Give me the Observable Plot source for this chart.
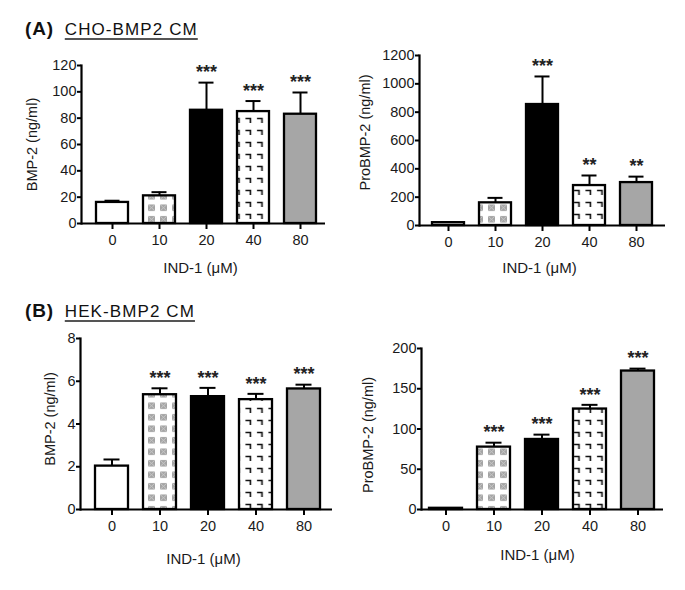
<!DOCTYPE html>
<html><head><meta charset="utf-8">
<script src="https://cdn.jsdelivr.net/npm/d3@7"></script>
<script src="https://cdn.jsdelivr.net/npm/@observablehq/plot@0.6"></script>
<style>
body{margin:0;background:#fff;font-family:"Liberation Sans",Arial,sans-serif;}
#root{position:relative;width:685px;height:590px;overflow:hidden;background:#fff;}
.panel{position:absolute;}
.title{position:absolute;font-size:17px;color:#111;white-space:nowrap;letter-spacing:1.1px;}
.title b{font-size:19px;margin-right:11px;letter-spacing:0.8px;}
.title u{text-decoration-thickness:1.5px;text-underline-offset:3px;text-decoration-color:#555;}
</style></head><body>
<div id="root">
<svg width="0" height="0" style="position:absolute;left:0;top:0">
  <defs>
    <pattern id="pCheck" patternUnits="userSpaceOnUse" width="12" height="11.5" x="2" y="0">
      <rect width="12" height="11.5" fill="#fff"/>
      <rect x="2" y="2" width="7" height="6.5" fill="#a4a4a4"/>
      <path d="M2,2 L9,8.5 M9,2 L2,8.5" stroke="#d0d0d0" stroke-width="0.8"/>
    </pattern>
    <pattern id="pHook" patternUnits="userSpaceOnUse" width="11.5" height="12" x="1" y="1">
      <rect width="11.5" height="12" fill="#fff"/>
      <path d="M3,3.5 H8 V8" fill="none" stroke="#111" stroke-width="1.6"/>
    </pattern>
  </defs>
</svg>
<div class="title" style="left:25px;top:18px"><b>(A)</b><u>CHO-BMP2 CM</u></div>
<div class="title" style="left:25px;top:300px"><b>(B)</b><u>HEK-BMP2 CM</u></div>
</div>
<script>
// ---- data ----
const categories = ["0", "10", "20", "40", "80"];
const xLabel = "IND-1 (μM)";

// (A) CHO-BMP2 CM
const choBmp2 = [16, 21, 86, 85, 83];
const choBmp2Sem = [1.3, 2.8, 21, 8, 16.5];
const choBmp2Sig = ["", "", "***", "***", "***"];
const choBmp2Ticks = [0, 20, 40, 60, 80, 100, 120];

const choPro = [20, 160, 854, 282, 303];
const choProSem = [3, 35, 198, 71, 42];
const choProSig = ["", "", "***", "**", "**"];
const choProTicks = [0, 200, 400, 600, 800, 1000, 1200];

// (B) HEK-BMP2 CM
const hekBmp2 = [2.03, 5.37, 5.28, 5.14, 5.64];
const hekBmp2Sem = [0.31, 0.3, 0.41, 0.27, 0.2];
const hekBmp2Sig = ["", "***", "***", "***", "***"];
const hekBmp2Ticks = [0, 2, 4, 6, 8];

const hekPro = [1.5, 77.5, 87, 124.8, 172];
const hekProSem = [0, 5.5, 6, 5.2, 3];
const hekProSig = ["", "***", "***", "***", "***"];
const hekProTicks = [0, 50, 100, 150, 200];

const fills = ["#ffffff", "url(#pCheck)", "#000000", "url(#pHook)", "#a6a6a6"];

function panel(o) {
  const data = categories.map((c, i) => ({cat: c, v: o.values[i], top: o.values[i] + o.sem[i], sig: o.sig[i]}));
  const ticks = o.ticks;
  return Plot.plot({
    width: o.width, height: o.height,
    marginLeft: o.ml, marginRight: o.mr, marginTop: o.mt, marginBottom: o.mb,
    style: {fontFamily: '"Liberation Sans", Arial, sans-serif', fontSize: "14px", color: "#1a1a1a", background: "transparent", overflow: "visible"},
    x: {type: "band", domain: categories, paddingInner: o.pi, paddingOuter: o.po, align: o.align, axis: null},
    y: {domain: [ticks[0], ticks[ticks.length - 1]], axis: null},
    color: {type: "ordinal", domain: categories, range: fills},
    marks: [
      Plot.ruleX(data, {x: "cat", y1: "v", y2: "top", stroke: "#000", strokeWidth: 2}),
      Plot.tickY(data.filter(d => d.top > d.v), {x: "cat", y: "top", stroke: "#000", strokeWidth: 2, insetLeft: 8.5, insetRight: 8.5}),
      Plot.barY(data, {x: "cat", y: "v", fill: "cat", stroke: "#000", strokeWidth: 2.3}),
      Plot.text(data, {x: "cat", y: "top", text: "sig", dy: -10, fontSize: 18, fontWeight: "bold", fill: "#222"}),
      Plot.ruleY([ticks[0]], {stroke: "#000", strokeWidth: 2.2}),
      Plot.frame({anchor: "left", stroke: "#000", strokeWidth: 2.2}),
      Plot.axisY(ticks, {tickSize: 4, tickPadding: 1, fontSize: 14.5, tickFormat: d3.format("d"), label: null, stroke: "#000", strokeWidth: 2}),
      Plot.axisX({tickSize: 6, tickPadding: 5, fontSize: 14.5, label: null, stroke: "#000", strokeWidth: 2}),
      Plot.text([xLabel], {text: d => d, frameAnchor: "bottom", textAnchor: "middle", lineAnchor: "middle", dy: o.xdy, dx: o.xdx, fontSize: 15, fill: "#1a1a1a"}),
      Plot.text([o.yLabel], {text: d => d, frameAnchor: "left", textAnchor: "middle", lineAnchor: "middle", dx: o.ydx, dy: o.ydy, rotate: -90, fontSize: 14.5, fill: "#1a1a1a"})
    ]
  });
}

const root = document.getElementById("root");
function place(svg, left, top) {
  svg.classList.add("panel");
  svg.style.left = left + "px";
  svg.style.top = top + "px";
  root.appendChild(svg);
}

place(panel({values: choBmp2, sem: choBmp2Sem, sig: choBmp2Sig, ticks: choBmp2Ticks, yLabel: "BMP-2 (ng/ml)",
  width: 340, height: 260, ml: 81, mr: 15, mt: 35, mb: 67,
  pi: 0.31, po: 0.2, align: 0.65, xdy: 45, xdx: -3, ydx: -49, ydy: 0}), 0, 30);

place(panel({values: choPro, sem: choProSem, sig: choProSig, ticks: choProTicks, yLabel: "ProBMP-2 (ng/ml)",
  width: 345, height: 260, ml: 79, mr: 20, mt: 25, mb: 65,
  pi: 0.31, po: 0.22, align: 0.5, xdy: 43, xdx: -3, ydx: -54, ydy: -8}), 340, 30);

place(panel({values: hekBmp2, sem: hekBmp2Sem, sig: hekBmp2Sig, ticks: hekBmp2Ticks, yLabel: "BMP-2 (ng/ml)",
  width: 340, height: 260, ml: 80, mr: 8, mt: 18, mb: 71,
  pi: 0.32, po: 0.25, align: 0.56, xdy: 50, xdx: -3, ydx: -30, ydy: -5}), 0, 320);

place(panel({values: hekPro, sem: hekProSem, sig: hekProSig, ticks: hekProTicks, yLabel: "ProBMP-2 (ng/ml)",
  width: 345, height: 260, ml: 81, mr: 22, mt: 28, mb: 71,
  pi: 0.316, po: 0.17, align: 0.47, xdy: 46, xdx: -5, ydx: -53, ydy: 6}), 340, 320);
</script>
</body></html>
